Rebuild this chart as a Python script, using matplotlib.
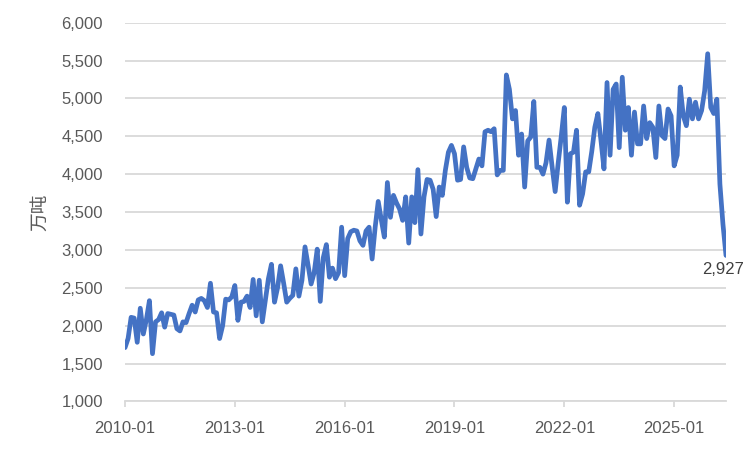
import matplotlib
matplotlib.use("Agg")
import matplotlib.pyplot as plt
import numpy as np

plt.rcParams['font.family'] = ['Liberation Sans', 'Noto Sans CJK SC', 'DejaVu Sans']

# monthly values, 万吨, starting 2010-01
values = [
    1710, 1830, 2110, 2100, 1780, 2230, 1890, 2080, 2330, 1630,
    2050, 2080, 2170, 1980, 2160, 2150, 2140, 1960, 1930, 2050,
    2040, 2160, 2270, 2180, 2340, 2360, 2330, 2240, 2560, 2180,
    2170, 1830, 2000, 2350, 2340, 2380, 2530, 2070, 2310, 2320,
    2390, 2240, 2610, 2130, 2600, 2050, 2330, 2620, 2810, 2310,
    2500, 2790, 2560, 2310, 2360, 2400, 2750, 2390, 2600, 3040,
    2800, 2550, 2700, 3010, 2320, 2900, 3070, 2640, 2760, 2620,
    2700, 3300, 2660, 3150, 3240, 3260, 3250, 3120, 3060, 3250,
    3300, 2880, 3300, 3640, 3400, 3170, 3890, 3430, 3720, 3620,
    3540, 3390, 3700, 3090, 3700, 3360, 4060, 3210, 3700, 3930,
    3920, 3800, 3440, 3830, 3720, 4050, 4290, 4380, 4270, 3920,
    3930, 4360, 4090, 3950, 3940, 4070, 4200, 4110, 4560, 4580,
    4560, 4600, 3990, 4050, 4050, 5310, 5120, 4730, 4840, 4250,
    4530, 3830, 4440, 4490, 4960, 4090, 4090, 4000, 4150, 4450,
    4100, 3770, 4150, 4500, 4880, 3630, 4270, 4290, 4580, 3590,
    3740, 4030, 4030, 4300, 4620, 4800, 4450, 4070, 5210, 4250,
    5120, 5190, 4350, 5280, 4580, 4880, 4250, 4820, 4400, 4400,
    4900, 4470, 4680, 4620, 4220, 4900, 4510, 4470, 4860, 4770,
    4110, 4250, 5150, 4770, 4640, 4990, 4730, 4950, 4730, 4840,
    5100, 5590, 4880, 4800, 4990, 3870, 3340, 2927,
]
tick_labels = ['2010-01', '2013-01', '2016-01', '2019-01', '2022-01', '2025-01']
tick_step = 36
y_ticks = [1000, 1500, 2000, 2500, 3000, 3500, 4000, 4500, 5000, 5500, 6000]

x = np.arange(len(values))

fig = plt.figure(figsize=(7.5, 4.5), dpi=100)
ax = fig.add_axes([0.1667, 0.108, 0.8013, 0.8416])

ax.plot(x, values, color='#4472C4', linewidth=3.4, solid_joinstyle='round',
        solid_capstyle='round', zorder=3)

ax.set_xlim(0, len(values) - 1)
ax.set_ylim(1000, 6000)
ax.set_yticks(y_ticks)
ax.set_yticklabels([f'{v:,}' for v in y_ticks])
ax.set_xticks(np.arange(len(tick_labels)) * tick_step)
ax.set_xticklabels(tick_labels)

ax.grid(axis='y', color='#D9D9D9', linewidth=1.3)
ax.set_axisbelow(True)
for side in ['top', 'right', 'left']:
    ax.spines[side].set_visible(False)
ax.spines['bottom'].set_color('#D9D9D9')
ax.spines['bottom'].set_linewidth(1.3)

ax.tick_params(axis='y', length=0, pad=16, labelsize=12, labelcolor='#595959')
ax.tick_params(axis='x', length=4, width=1.3, color='#D9D9D9', pad=10,
               labelsize=12, labelcolor='#595959')

ax.set_ylabel('万吨', fontsize=13.5, color='#595959', labelpad=8,
              family=['Noto Sans CJK SC', 'DejaVu Sans'])

# label on the last point
ax.annotate(f'{values[-1]:,}', (x[-1], values[-1]), xytext=(-2, -10),
            textcoords='offset points', ha='center', va='center',
            fontsize=12, color='#404040')

fig.savefig('out.png', dpi=100)
